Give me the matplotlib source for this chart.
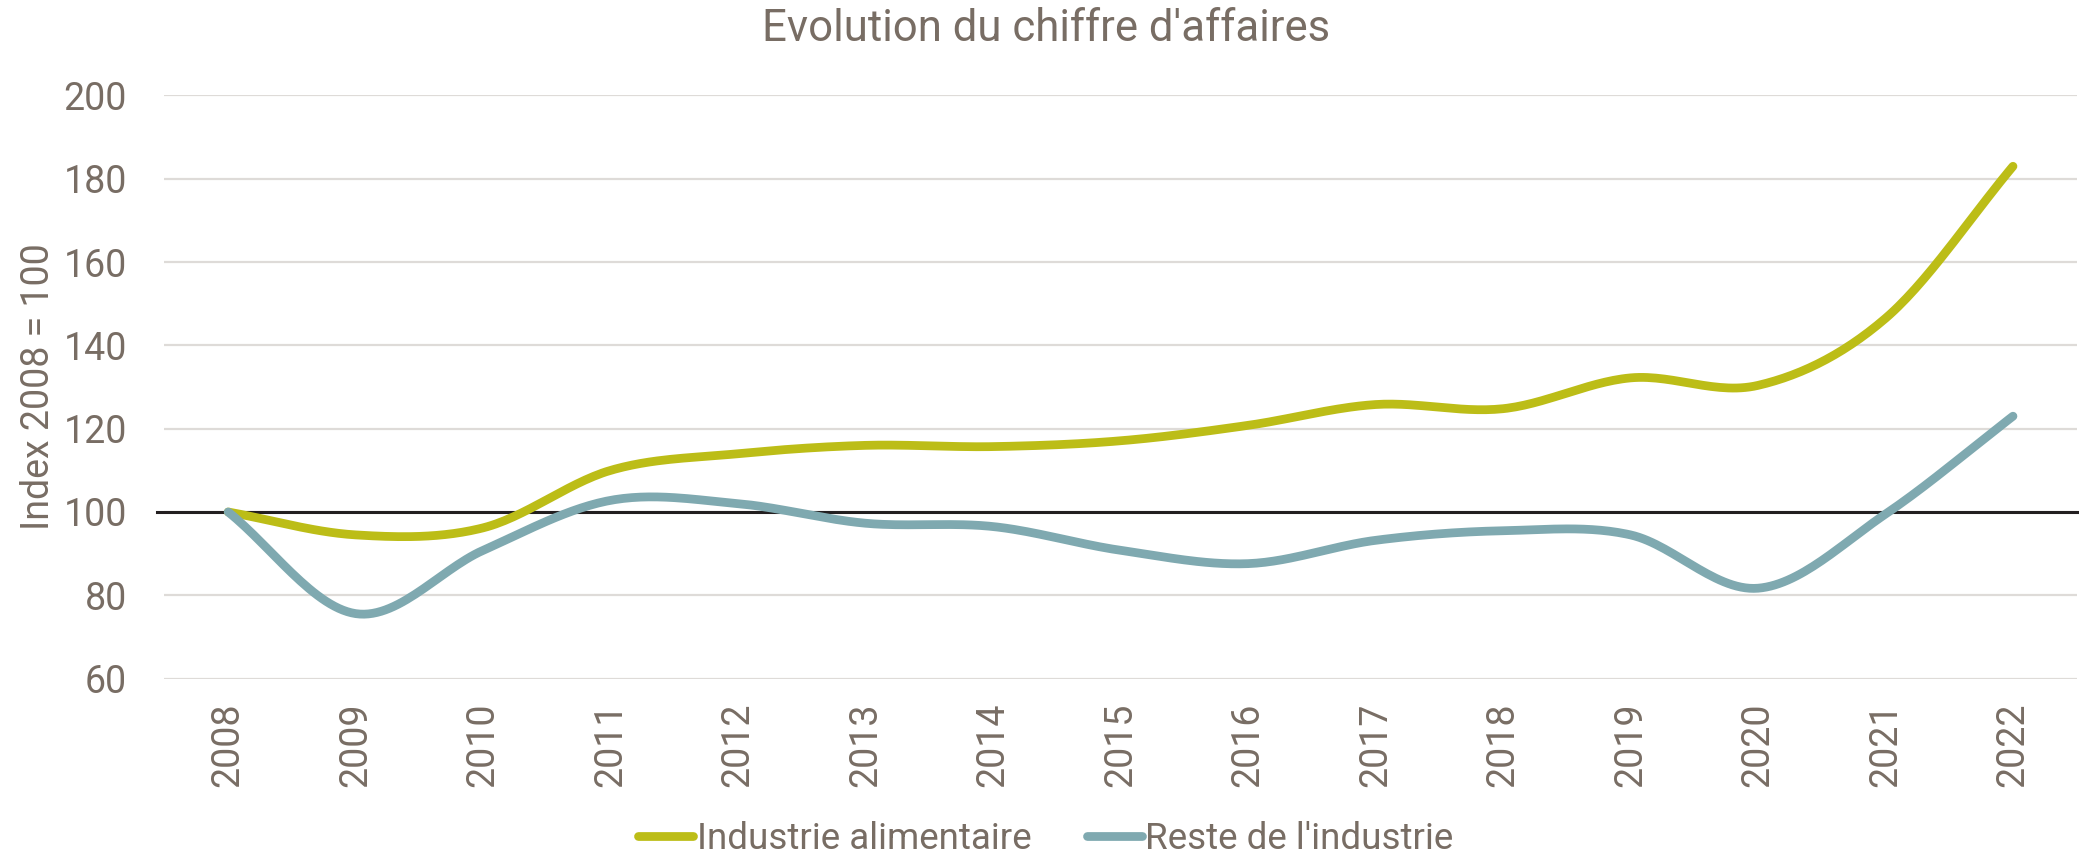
import numpy as np
import matplotlib
matplotlib.use('Agg')
import matplotlib.pyplot as plt

plt.rcParams['font.family'] = ['Roboto', 'DejaVu Sans']

years = [str(y) for y in range(2008, 2023)]
alimentaire = [100, 94.5, 96.2, 110, 114, 116, 115.7, 117.1, 120.8, 125.8, 124.8, 132.2, 130.4, 146.5, 183]
reste = [100, 75.6, 90.8, 102.8, 102, 97.3, 96.5, 90.8, 87.6, 93.2, 95.5, 94.5, 81.7, 99.5, 123]

txt = '#786d64'
green = '#bcbd17'
blue = '#7fa9b0'


def smooth(y, n=30):
    # catmull-rom, like excel's "smoothed line"
    y = np.asarray(y, float)
    x = np.arange(len(y), dtype=float)
    px = np.concatenate([[2 * x[0] - x[1]], x, [2 * x[-1] - x[-2]]])
    py = np.concatenate([[2 * y[0] - y[1]], y, [2 * y[-1] - y[-2]]])
    xs, ys = [], []
    t = np.linspace(0, 1, n, endpoint=False)
    for i in range(1, len(px) - 2):
        for p, out in ((px, xs), (py, ys)):
            p0, p1, p2, p3 = p[i - 1], p[i], p[i + 1], p[i + 2]
            out.extend(0.5 * (2 * p1 + (-p0 + p2) * t + (2 * p0 - 5 * p1 + 4 * p2 - p3) * t ** 2
                              + (-p0 + 3 * p1 - 3 * p2 + p3) * t ** 3))
    xs.append(x[-1])
    ys.append(y[-1])
    return np.array(xs), np.array(ys)


fig = plt.figure(figsize=(20.79, 8.58), dpi=100)
ax = fig.add_axes([0.0791, 0.2091, 0.9198, 0.6796])

ax.set_xlim(-0.5, len(years) - 0.5)
ax.set_ylim(60, 200)
ax.set_yticks(range(60, 201, 20))
ax.set_xticks(range(len(years)))
ax.set_xticklabels(years, rotation=90)
ax.grid(axis='y', color='#dedbd8', lw=1.6, zorder=0)
ax.set_axisbelow(True)
for s in ax.spines.values():
    s.set_visible(False)
ax.tick_params(length=0, labelsize=27, labelcolor=txt)
ax.tick_params(axis='y', pad=27)
ax.tick_params(axis='x', pad=17)

ax.axhline(100, xmin=-0.004, xmax=1, color='#231f20', lw=2.2, zorder=1, clip_on=False)

sx, sy = smooth(alimentaire)
ax.plot(sx, sy, color=green, lw=6.3, solid_capstyle='round', zorder=3, label='Industrie alimentaire')
sx, sy = smooth(reste)
ax.plot(sx, sy, color=blue, lw=6.3, solid_capstyle='round', zorder=3, label="Reste de l'industrie")

ax.set_ylabel('Index 2008 = 100', fontsize=27, color=txt)
ax.yaxis.set_label_coords(-0.056, 0.5)

fig.text(0.503, 0.966, "Evolution du chiffre d'affaires", ha='center', va='center', fontsize=31.5, color=txt)

leg = fig.legend(loc='center', bbox_to_anchor=(0.503, 0.022), ncol=2, frameon=False,
                 fontsize=26.5, handlelength=1.5, handletextpad=0.1, columnspacing=1.5)
for t in leg.get_texts():
    t.set_color(txt)

fig.savefig('out.png', dpi=100)
